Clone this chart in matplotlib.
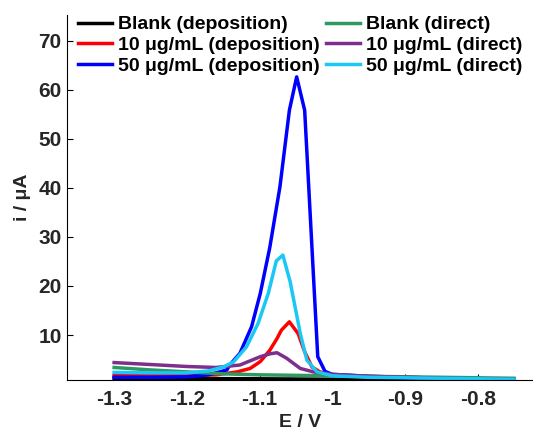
import matplotlib
matplotlib.use("Agg")
import matplotlib.pyplot as plt

plt.rcParams['font.family'] = ['Liberation Sans', 'DejaVu Sans']
plt.rcParams['font.weight'] = 'bold'

# series data (E in V, i in uA)
blank_dep_x = [-1.30, -1.20, -1.10, -1.00, -0.95, -0.90, -0.80, -0.75]
blank_dep_y = [1.20, 1.15, 1.10, 1.00, 0.95, 0.92, 0.90, 0.90]

dep10_x = [-1.30, -1.25, -1.20, -1.16, -1.131, -1.113, -1.099, -1.086, -1.076,
           -1.070, -1.059, -1.047, -1.038, -1.028, -1.017, -1.00, -0.95, -0.90,
           -0.85, -0.80, -0.75]
dep10_y = [1.8, 1.8, 1.8, 1.9, 2.5, 3.2, 4.6, 6.9, 9.3,
           11.0, 12.7, 10.3, 6.6, 3.5, 2.5, 1.8, 1.5, 1.4,
           1.2, 1.1, 1.0]

dep50_x = [-1.30, -1.25, -1.20, -1.17, -1.145, -1.141, -1.127, -1.111, -1.099,
           -1.086, -1.072, -1.059, -1.049, -1.038, -1.020, -1.010, -1.00, -0.95,
           -0.90, -0.85, -0.80, -0.75]
dep50_y = [1.4, 1.4, 1.5, 1.9, 2.9, 3.9, 6.3, 11.7, 18.5,
           27.8, 40.2, 55.8, 62.6, 55.8, 5.6, 2.6, 2.0, 1.6,
           1.4, 1.2, 1.1, 1.0]

blank_dir_x = [-1.30, -1.25, -1.20, -1.15, -1.10, -1.00, -0.90, -0.80, -0.75]
blank_dir_y = [3.4, 2.9, 2.5, 2.1, 1.9, 1.7, 1.5, 1.3, 1.2]

dir10_x = [-1.30, -1.25, -1.20, -1.16, -1.127, -1.099, -1.085, -1.076, -1.063,
           -1.044, -1.026, -1.00, -0.95, -0.90, -0.85, -0.80, -0.75]
dir10_y = [4.4, 4.0, 3.6, 3.4, 3.9, 5.6, 6.2, 6.4, 5.3,
           3.2, 2.5, 2.0, 1.6, 1.4, 1.2, 1.1, 1.0]

dir50_x = [-1.30, -1.25, -1.20, -1.17, -1.15, -1.136, -1.118, -1.102, -1.088,
           -1.077, -1.068, -1.058, -1.044, -1.035, -1.021, -1.00, -0.95, -0.90,
           -0.85, -0.80, -0.75]
dir50_y = [2.4, 2.3, 2.3, 2.7, 3.5, 4.5, 7.6, 12.4, 18.5,
           25.1, 26.3, 20.9, 10.3, 4.9, 2.5, 1.7, 1.4, 1.3,
           1.2, 1.1, 1.0]

labels = ['Blank (deposition)', '10 μg/mL (deposition)', '50 μg/mL (deposition)',
          'Blank (direct)', '10 μg/mL (direct)', '50 μg/mL (direct)']
colors = ['#000000', '#ff0000', '#0000ff', '#2e9960', '#7e2f8e', '#19c8f5']

xticks = [-1.3, -1.2, -1.1, -1.0, -0.9, -0.8]
xtick_labels = ['-1.3', '-1.2', '-1.1', '-1', '-0.9', '-0.8']
yticks = [10, 20, 30, 40, 50, 60, 70]

fig = plt.figure(figsize=(5.33, 4.30), dpi=100)
ax = fig.add_axes([0.126, 0.1163, 0.874, 0.8488])

series = [(blank_dep_x, blank_dep_y), (dep10_x, dep10_y), (dep50_x, dep50_y),
          (blank_dir_x, blank_dir_y), (dir10_x, dir10_y), (dir50_x, dir50_y)]
for (xs, ys), lab, col in zip(series, labels, colors):
    ax.plot(xs, ys, color=col, lw=2.5, label=lab)

ax.set_xlim(-1.3646, -0.724)
ax.set_ylim(0.85, 75.2)
ax.set_xticks(xticks)
ax.set_xticklabels(xtick_labels)
ax.set_yticks(yticks)
ax.tick_params(direction='in', length=4, labelsize=15, labelcolor='#262626')
ax.tick_params(axis='x', pad=7)
ax.tick_params(axis='y', pad=4)
for lbl in ax.get_xticklabels() + ax.get_yticklabels():
    lbl.set_fontweight('bold')

ax.spines['top'].set_visible(False)
ax.spines['right'].set_visible(False)

ax.set_xlabel('E / V', fontsize=14, fontweight='bold', color='#262626', labelpad=4)
ax.set_ylabel('i / μA', fontsize=14, fontweight='bold', color='#262626', labelpad=5)

ax.legend(ncol=2, frameon=False, fontsize=14, loc='upper left',
          bbox_to_anchor=(-0.006, 1.035), handlelength=1.75, handletextpad=0.33,
          columnspacing=0.3, labelspacing=0.15, borderaxespad=0.3)

fig.savefig('out.png', dpi=100)
